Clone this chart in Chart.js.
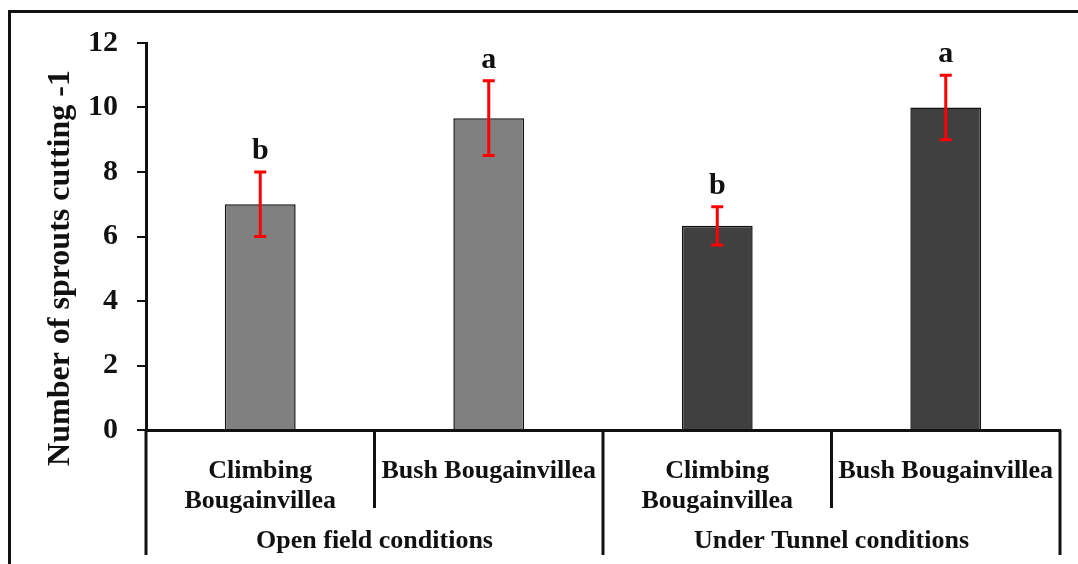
<!DOCTYPE html>
<html>
<head>
<meta charset="utf-8">
<script src="https://cdn.jsdelivr.net/npm/chart.js@4/dist/chart.umd.min.js"></script>
<style>
  html, body { margin: 0; padding: 0; background: #fff; }
  #wrap { width: 1078px; height: 564px; }
</style>
</head>
<body>
<div id="wrap"><canvas id="c" width="1078" height="564"></canvas></div>
<script>
// Cultivars per growing condition (two per group)
const cultivars = [['Climbing', 'Bougainvillea'], 'Bush Bougainvillea', ['Climbing', 'Bougainvillea'], 'Bush Bougainvillea'];
const conditions = ['Open field conditions', 'Under Tunnel conditions'];
// Mean number of sprouts per cutting and its error
const sproutMeans = [7.0, 9.67, 6.33, 10.0];
const sproutErrors = [1.0, 1.16, 0.59, 1.0];
// Significance letters shown above each bar
const significance = ['b', 'a', 'b', 'a'];
const yTicks = [0, 2, 4, 6, 8, 10, 12];
const yTitle = 'Number of sprouts cutting -1';

const barColors = ['#808080', '#808080', '#404040', '#404040'];
const serif = '"Liberation Serif", "Times New Roman", serif';

const decor = {
  id: 'decor',
  beforeDraw(chart) {
    const ctx = chart.ctx;
    ctx.save();
    ctx.fillStyle = '#fff';
    ctx.fillRect(0, 0, chart.width, chart.height);
    ctx.restore();
  },
  afterDatasetsDraw(chart) {
    const ctx = chart.ctx, x = chart.scales.x, y = chart.scales.y;
    ctx.save();
    sproutMeans.forEach((m, i) => {
      const px = x.getPixelForValue(i);
      const top = y.getPixelForValue(m + sproutErrors[i]);
      const bot = y.getPixelForValue(m - sproutErrors[i]);
      ctx.strokeStyle = '#ff0000';
      ctx.lineWidth = 3;
      ctx.beginPath();
      ctx.moveTo(px, top); ctx.lineTo(px, bot);
      ctx.moveTo(px - 6, top); ctx.lineTo(px + 6, top);
      ctx.moveTo(px - 6, bot); ctx.lineTo(px + 6, bot);
      ctx.stroke();
      ctx.fillStyle = '#111';
      ctx.font = 'bold 30px ' + serif;
      ctx.textAlign = 'center';
      ctx.textBaseline = 'alphabetic';
      ctx.fillText(significance[i], px, top - 13);
    });
    ctx.restore();
  },
  afterDraw(chart) {
    const ctx = chart.ctx, x = chart.scales.x, area = chart.chartArea;
    ctx.save();
    // outer frame (top and left edges)
    ctx.fillStyle = '#111';
    ctx.fillRect(8, 10, chart.width - 8, 3);
    ctx.fillRect(8, 10, 3, chart.height - 10);

    // category separators below the axis
    const half = (x.getPixelForValue(1) - x.getPixelForValue(0)) / 2;
    ctx.strokeStyle = '#111';
    ctx.lineWidth = 3;
    for (let i = 0; i <= cultivars.length; i++) {
      const bx = x.getPixelForValue(0) - half + i * 2 * half;
      const groupEdge = i % 2 === 0;
      ctx.beginPath();
      ctx.moveTo(bx, area.bottom);
      ctx.lineTo(bx, groupEdge ? 555 : 508);
      ctx.stroke();
    }

    // group labels
    ctx.fillStyle = '#111';
    ctx.font = 'bold 26px ' + serif;
    ctx.textAlign = 'center';
    ctx.textBaseline = 'alphabetic';
    conditions.forEach((c, g) => {
      const cx = (x.getPixelForValue(g * 2) + x.getPixelForValue(g * 2 + 1)) / 2;
      ctx.fillText(c, cx, 548);
    });

    // y-axis title
    ctx.translate(61, 268);
    ctx.rotate(-Math.PI / 2);
    ctx.font = 'bold 32px ' + serif;
    ctx.textBaseline = 'middle';
    ctx.fillText(yTitle, 0, 0);
    ctx.restore();
  }
};

new Chart(document.getElementById('c'), {
  type: 'bar',
  data: {
    labels: cultivars,
    datasets: [{
      data: sproutMeans,
      backgroundColor: barColors,
      borderColor: '#111',
      borderWidth: 1.5,
      categoryPercentage: 1.0,
      barPercentage: 0.31
    }]
  },
  options: {
    responsive: false,
    animation: false,
    events: [],
    layout: { padding: { top: 43, right: 18, bottom: 0, left: 0 } },
    plugins: { legend: { display: false }, tooltip: { enabled: false } },
    scales: {
      x: {
        grid: { display: false },
        border: { display: true, color: '#111', width: 3 },
        ticks: {
          color: '#111',
          font: { family: serif, size: 26, weight: 'bold', lineHeight: 1.15 },
          padding: 18,
          maxRotation: 0,
          autoSkip: false
        },
        afterFit(scale) { scale.height = 134; }
      },
      y: {
        min: 0,
        max: 12,
        afterBuildTicks(scale) { scale.ticks = yTicks.map(v => ({ value: v })); },
        grid: { drawOnChartArea: false, drawTicks: true, tickLength: 9, color: '#111', lineWidth: 2 },
        border: { display: true, color: '#111', width: 3 },
        ticks: {
          color: '#111',
          font: { family: serif, size: 30, weight: 'bold' },
          padding: 19
        },
        afterFit(scale) { scale.width = 146; }
      }
    }
  },
  plugins: [decor]
});
</script>
</body>
</html>
